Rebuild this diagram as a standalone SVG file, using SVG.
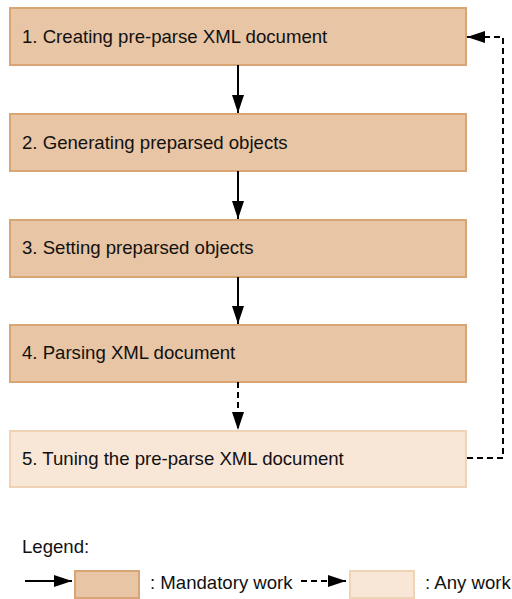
<svg xmlns="http://www.w3.org/2000/svg" width="512" height="599" viewBox="0 0 512 599">
<style>
.m{fill:#E8C5A4;stroke:#D9A575;stroke-width:2}
.a{fill:#F8E6D6;stroke:#F0D2B5;stroke-width:2}
text{font-family:"Liberation Sans",Arial,sans-serif;font-size:18.6px;fill:#111}
.c{stroke:#000;stroke-width:2;fill:none}
.d{stroke:#000;stroke-width:2;fill:none;stroke-dasharray:6,4}
</style>
<defs>
<marker id="ahh" markerWidth="18" markerHeight="12" refX="18" refY="6" orient="auto" markerUnits="userSpaceOnUse" viewBox="0 0 18 12">
<path d="M0,0 L18,6 L0,12 Z" fill="#000"/>
</marker>
</defs>
<g id="n1"><rect class="m" x="10" y="8" width="456" height="57"/><text x="22" y="43">1. Creating pre-parse XML document</text></g>
<g id="n2"><rect class="m" x="10" y="114" width="456" height="57"/><text x="22" y="149">2. Generating preparsed objects</text></g>
<g id="n3"><rect class="m" x="10" y="220" width="456" height="57"/><text x="22" y="254">3. Setting preparsed objects</text></g>
<g id="n4"><rect class="m" x="10" y="325" width="456" height="57"/><text x="22" y="359">4. Parsing XML document</text></g>
<g id="n5"><rect class="a" x="10" y="431" width="456" height="56"/><text x="22" y="465">5. Tuning the pre-parse XML document</text></g>
<g id="connectors">
<path class="c" d="M238,65 V113" marker-end="url(#ahh)"/>
<path class="c" d="M238,171 V219" marker-end="url(#ahh)"/>
<path class="c" d="M238,277 V324" marker-end="url(#ahh)"/>
<path class="d" d="M238,382 V430" marker-end="url(#ahh)"/>
<path class="d" d="M467,458 H503 V37 H467" marker-end="url(#ahh)"/>
</g>
<g id="legend">
<text x="22" y="553">Legend:</text>
<path class="c" d="M25,581 H72" marker-end="url(#ahh)"/>
<rect class="m" x="75" y="571" width="64" height="27"/>
<text x="150" y="589">: Mandatory work</text>
<path class="d" d="M301,581 H346" marker-end="url(#ahh)"/>
<rect class="a" x="350" y="571" width="64" height="27"/>
<text x="425" y="589">: Any work</text>
</g>
</svg>
